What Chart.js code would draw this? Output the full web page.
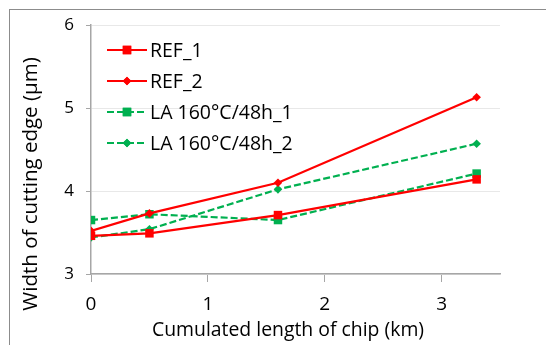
<!DOCTYPE html>
<html><head><meta charset="utf-8">
<script src="https://cdn.jsdelivr.net/npm/chart.js@4"></script>
<style>html,body{margin:0;padding:0;background:#fff}#wrap{width:546px;height:345px}</style>
</head><body><div id="wrap"><canvas id="c" width="546" height="345"></canvas></div>
<script>
const xValues = [0, 0.5, 1.6, 3.3];
const ref1 = [3.46, 3.49, 3.71, 4.14];
const ref2 = [3.52, 3.73, 4.10, 5.13];
const la1 = [3.65, 3.72, 3.65, 4.21];
const la2 = [3.44, 3.54, 4.02, 4.57];
const seriesNames = ['REF_1', 'REF_2', 'LA 160°C/48h_1', 'LA 160°C/48h_2'];
const xTitle = 'Cumulated length of chip (km)';
const yTitle = 'Width of cutting edge (µm)';
const FONT = "'Open Sans', sans-serif";
const RED = '#FF0000', GREEN = '#00B050';

function pts(ys){ return xValues.map((x,i)=>({x, y: ys[i]})); }

const datasets = [
  {label: seriesNames[0], data: pts(ref1), borderColor: RED, backgroundColor: RED, pointStyle: 'rect', pointRadius: 6, borderWidth: 2.2},
  {label: seriesNames[1], data: pts(ref2), borderColor: RED, backgroundColor: RED, pointStyle: 'rectRot', pointRadius: 4.3, borderWidth: 2.2},
  {label: seriesNames[2], data: pts(la1), borderColor: GREEN, backgroundColor: GREEN, pointStyle: 'rect', pointRadius: 6, borderWidth: 2.2, borderDash: [7,3]},
  {label: seriesNames[3], data: pts(la2), borderColor: GREEN, backgroundColor: GREEN, pointStyle: 'rectRot', pointRadius: 4.3, borderWidth: 2.2, borderDash: [7,3]},
].map(d => Object.assign({showLine: true, fill: false, tension: 0, pointBorderWidth: 0, pointBorderColor: d.borderColor}, d));

const decor = {
  id: 'decor',
  beforeDraw(chart){
    const ctx = chart.ctx;
    ctx.save();
    ctx.fillStyle = '#fff';
    ctx.fillRect(0,0,chart.width,chart.height);
    ctx.strokeStyle = '#8c8c8c';
    ctx.lineWidth = 1;
    ctx.strokeRect(9.5, 9.5, 600, 400);
    ctx.restore();
  },
  afterDraw(chart){
    const ctx = chart.ctx;
    ctx.save();
    ctx.fillStyle = '#000';
    ctx.font = '19.4px ' + FONT;
    ctx.textAlign = 'center';
    ctx.textBaseline = 'middle';
    ctx.fillText(xTitle, 288, 330);
    ctx.font = '20.5px ' + FONT;
    ctx.translate(31, 184);
    ctx.rotate(-Math.PI/2);
    ctx.fillText(yTitle, 0, 0);
    ctx.restore();
    // legend
    const rows = [50, 81, 112, 143];
    chart.data.datasets.forEach((ds, i) => {
      const y = rows[i];
      ctx.save();
      ctx.strokeStyle = ds.borderColor;
      ctx.lineWidth = 2.2;
      ctx.setLineDash(ds.borderDash || []);
      ctx.beginPath();
      ctx.moveTo(107, y); ctx.lineTo(147, y);
      ctx.stroke();
      ctx.setLineDash([]);
      ctx.fillStyle = ds.backgroundColor;
      Chart.helpers.drawPoint(ctx, {pointStyle: ds.pointStyle, radius: ds.pointRadius, rotation: 0, borderWidth: 0}, 127, y);
      ctx.fill();
      ctx.fillStyle = '#000';
      ctx.font = '19.5px ' + FONT;
      ctx.textAlign = 'left';
      ctx.textBaseline = 'middle';
      ctx.fillText(ds.label, 150, y + 1);
      ctx.restore();
    });
  }
};

new Chart(document.getElementById('c'), {
  type: 'scatter',
  data: {datasets},
  plugins: [decor],
  options: {
    responsive: false,
    animation: false,
    layout: {padding: {left: 0, top: 25, right: 46, bottom: 0}},
    plugins: {legend: {display: false}, tooltip: {enabled: false}},
    scales: {
      x: {
        type: 'linear', min: 0, max: 3.5,
        afterBuildTicks: s => { s.ticks = s.ticks.filter(t => Number.isInteger(t.value)); },
        afterFit: s => { s.height = 71; },
        ticks: {stepSize: 1, padding: 11, color: '#000', font: {family: FONT, size: 19}},
        grid: {drawOnChartArea: false, drawTicks: true, tickLength: 8, color: '#a6a6a6', tickColor: '#a6a6a6'},
        border: {color: '#a6a6a6', width: 1.5}
      },
      y: {
        type: 'linear', min: 3, max: 6,
        afterFit: s => { s.width = 91; },
        ticks: {stepSize: 1, padding: 12, color: '#000', font: {family: FONT, size: 17}},
        grid: {drawOnChartArea: true, drawTicks: true, tickLength: 5, color: '#e8e8e8', tickColor: '#a6a6a6'},
        border: {color: '#a6a6a6', width: 1.5}
      }
    }
  }
});
</script></body></html>
